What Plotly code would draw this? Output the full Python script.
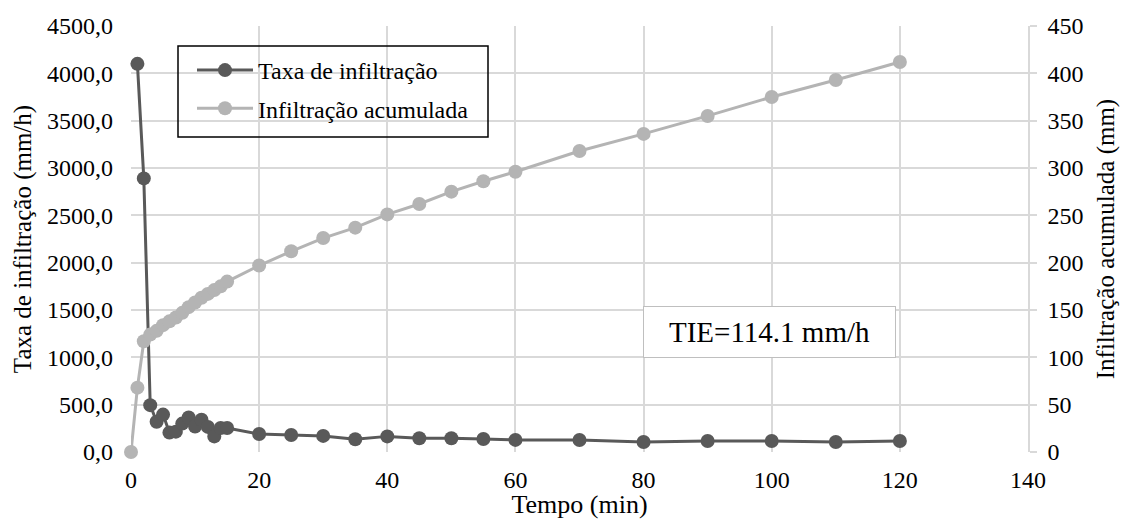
import plotly.graph_objects as go

tempo_taxa = [1, 2, 3, 4, 5, 6, 7, 8, 9, 10, 11, 12, 13, 14, 15, 20, 25, 30, 35, 40, 45, 50, 55, 60, 70, 80, 90, 100, 110, 120]
taxa = [4100, 2890, 495, 320, 395, 205, 215, 300, 365, 270, 340, 265, 165, 253, 253, 190, 180, 170, 135, 165, 145, 145, 137, 128, 126, 105, 116, 116, 105, 116]

tempo_acum = [0, 1, 2, 3, 4, 5, 6, 7, 8, 9, 10, 11, 12, 13, 14, 15, 20, 25, 30, 35, 40, 45, 50, 55, 60, 70, 80, 90, 100, 110, 120]
acumulada = [0, 68, 117, 124, 128, 134, 138, 142, 147, 153, 158, 163, 167, 171, 175, 180, 197, 212, 226, 237, 251, 262, 275, 286, 296, 318, 336, 355, 375, 393, 412]

nome_taxa = "Taxa de infiltração"
nome_acum = "Infiltração acumulada"
texto_tie = "TIE=114.1 mm/h"

FONT = "Liberation Serif"
DARK = "#595959"
LIGHT = "#b4b4b4"
GRID = "#d9d9d9"

W, H = 1123, 519
L, R, T, B = 131, 95, 26, 67
PW, PH = W - L - R, H - T - B


def px_x(p):
    return (p - L) / PW


def px_y(p):
    return (H - B - p) / PH


fig = go.Figure()
fig.add_trace(go.Scatter(
    x=tempo_acum, y=acumulada, name=nome_acum, mode="lines+markers",
    line=dict(color=LIGHT, width=3), marker=dict(color=LIGHT, size=14),
    cliponaxis=False, yaxis="y2", legendrank=2, legendgroup="b"))
fig.add_trace(go.Scatter(
    x=tempo_taxa, y=taxa, name=nome_taxa, mode="lines+markers",
    line=dict(color=DARK, width=3), marker=dict(color=DARK, size=14),
    cliponaxis=False, yaxis="y", legendrank=1, legendgroup="a"))

fig.update_layout(
    width=W, height=H,
    margin=dict(l=L, r=R, t=T, b=B),
    paper_bgcolor="white", plot_bgcolor="white",
    font=dict(family=FONT, size=24, color="#000000"),
    separators=",.",
    showlegend=True,
    legend=dict(
        x=px_x(192), y=px_y(48), xanchor="left", yanchor="top",
        bgcolor="rgba(0,0,0,0)", borderwidth=0,
        font=dict(family=FONT, size=24, color="#000000"),
        itemwidth=56, tracegroupgap=4,
    ),
    xaxis=dict(
        range=[0, 140], dtick=20, tick0=0,
        showgrid=True, gridcolor=GRID, gridwidth=1.5,
        zeroline=False, showline=False, automargin=False,
        ticks="", ticklabelstandoff=11,
        tickfont=dict(family=FONT, size=24),
        title=dict(text="Tempo (min)", font=dict(family=FONT, size=26), standoff=0),
    ),
    yaxis=dict(
        range=[0, 4500], dtick=500, tick0=0, tickformat=".1f",
        showgrid=True, gridcolor=GRID, gridwidth=1.5,
        zeroline=False, showline=False, ticks="", ticklabelstandoff=17,
        automargin=False,
        tickfont=dict(family=FONT, size=24),
        title=dict(text="Taxa de infiltração (mm/h)", font=dict(family=FONT, size=25), standoff=8),
    ),
    yaxis2=dict(
        range=[0, 450], dtick=50, tick0=0, overlaying="y", side="right",
        showgrid=False, zeroline=False, automargin=False,
        showline=True, linecolor=GRID, linewidth=1.5,
        ticks="outside", ticklen=7, tickcolor=GRID, tickwidth=1.5,
        ticklabelstandoff=6,
        tickfont=dict(family=FONT, size=24),
        title=dict(text="Infiltração acumulada (mm)", font=dict(family=FONT, size=25), standoff=14),
    ),
)

# legend frame
fig.add_shape(
    type="rect", xref="paper", yref="paper", layer="above",
    x0=px_x(178), x1=px_x(488), y0=px_y(137), y1=px_y(46),
    line=dict(color="#000000", width=1.5), fillcolor="rgba(0,0,0,0)",
)

fig.add_annotation(
    xref="paper", yref="paper", xanchor="center", yanchor="middle",
    x=px_x(769.5), y=px_y(332),
    text=texto_tie, showarrow=False,
    font=dict(family=FONT, size=29, color="#000000"),
    bgcolor="white", bordercolor="#bfbfbf", borderwidth=1,
    width=249, height=48, align="center", valign="middle",
)

fig.write_html("out.html")
